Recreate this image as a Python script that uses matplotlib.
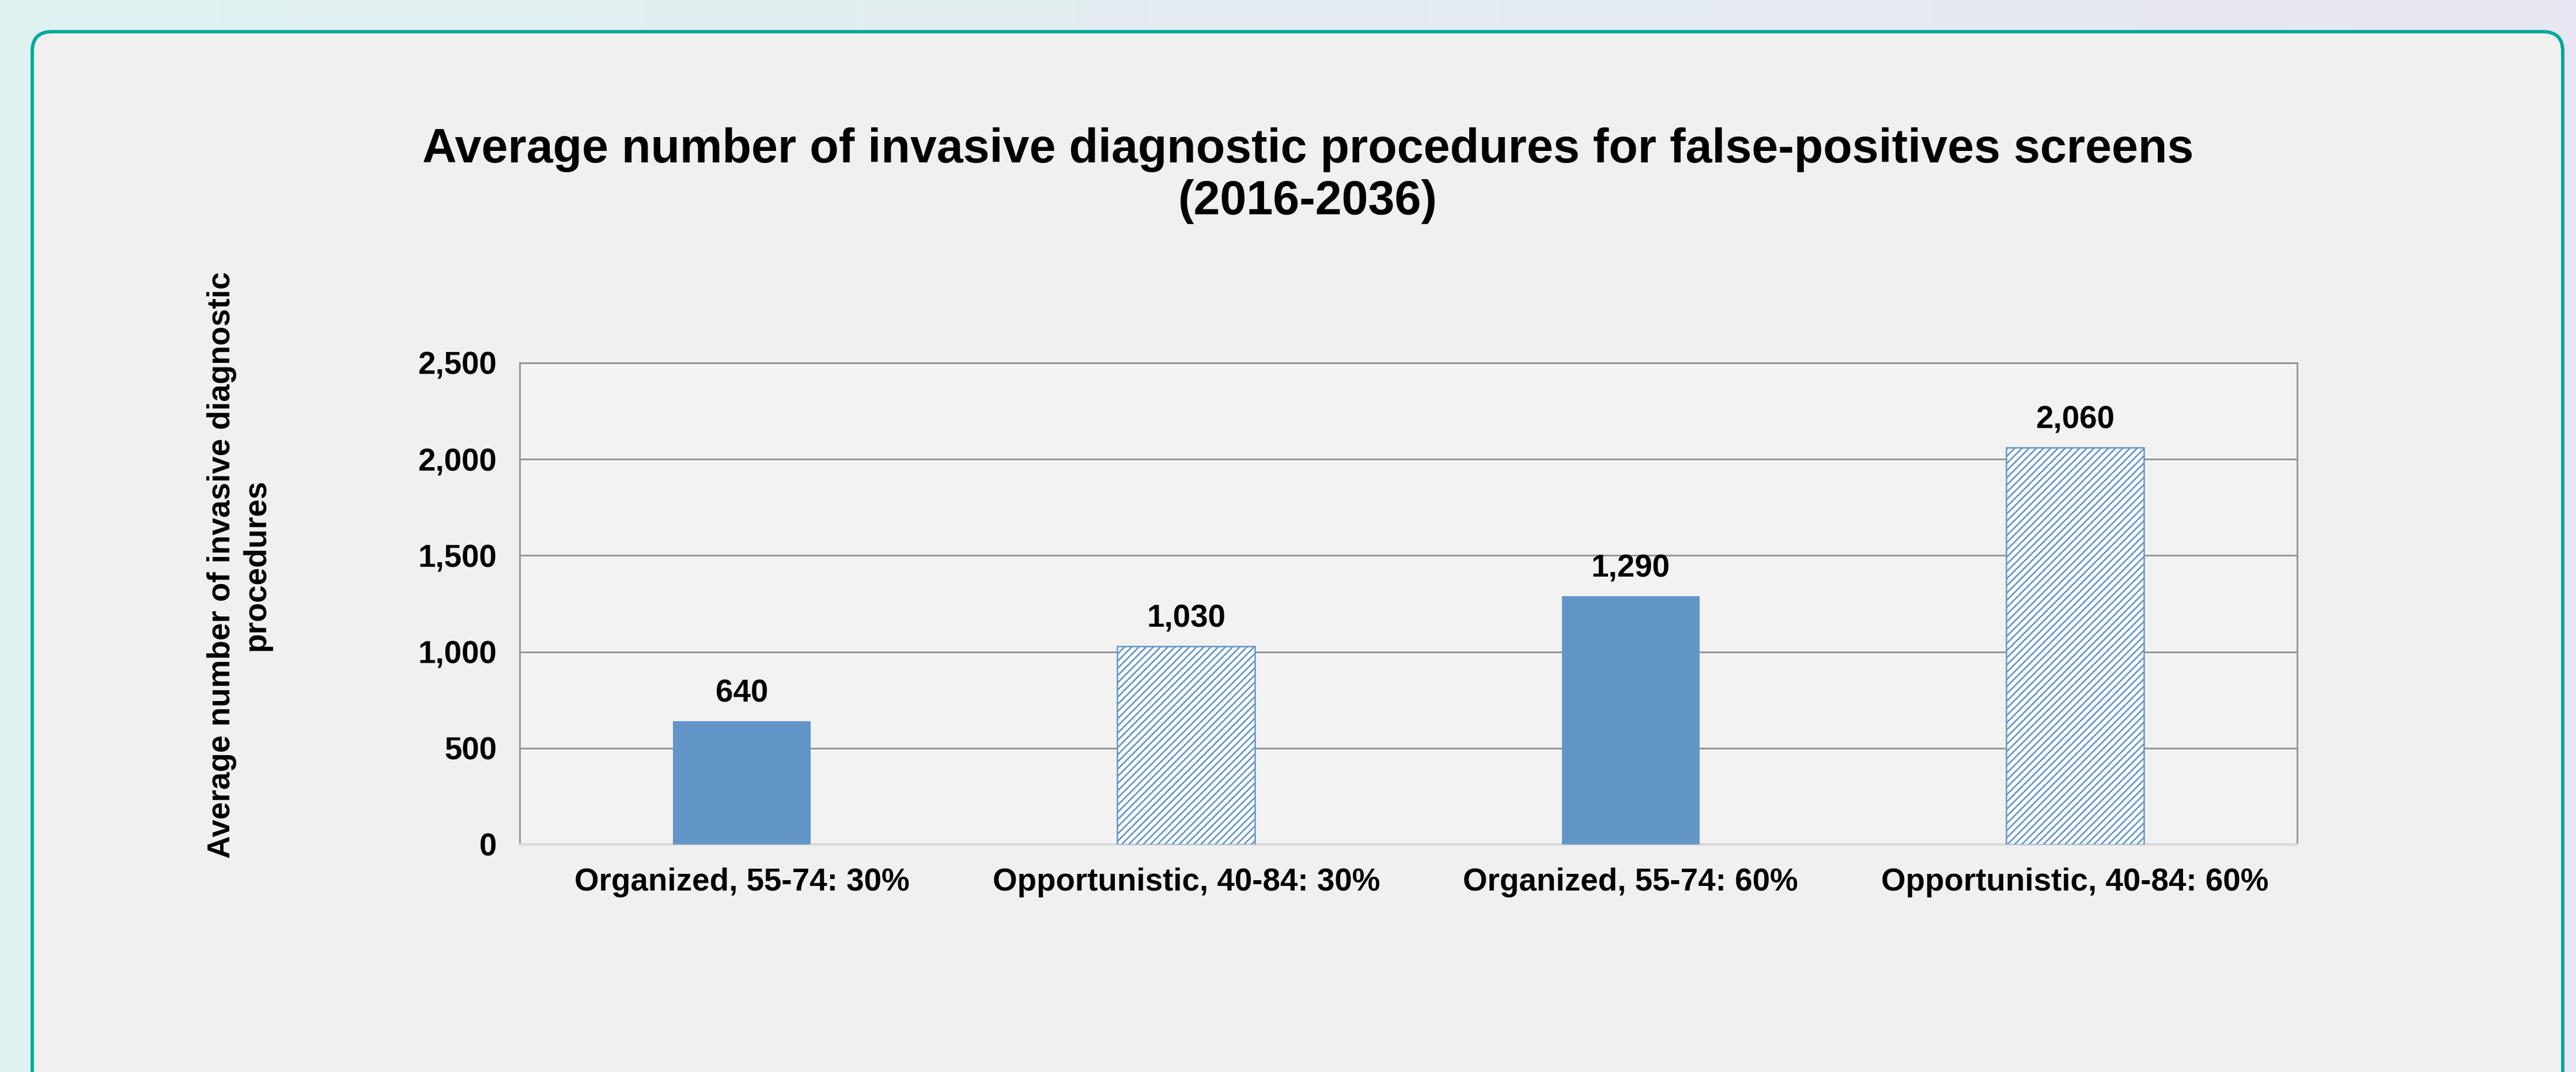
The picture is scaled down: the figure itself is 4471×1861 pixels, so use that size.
import matplotlib.pyplot as plt
import numpy as np
from matplotlib.patches import FancyBboxPatch

# Chart data
categories = ['Organized, 55-74: 30%', 'Opportunistic, 40-84: 30%',
              'Organized, 55-74: 60%', 'Opportunistic, 40-84: 60%']
values = [640, 1030, 1290, 2060]
hatched = [False, True, False, True]
y_ticks = [0, 500, 1000, 1500, 2000, 2500]

title = 'Average number of invasive diagnostic procedures for false-positives screens\n(2016-2036)'
y_label = 'Average number of invasive diagnostic\nprocedures'

W, H, DPI = 4471, 1861, 150
bar_color = '#6396C8'
grid_color = '#959595'
fs = 26.3

plt.rcParams['font.family'] = ['Liberation Sans', 'DejaVu Sans']
plt.rcParams['font.weight'] = 'bold'
plt.rcParams['hatch.linewidth'] = 1.3

fig = plt.figure(figsize=(W / DPI, H / DPI), dpi=DPI)

# Background gradient and rounded card
bg = fig.add_axes([0, 0, 1, 1])
bg.set_xlim(0, W)
bg.set_ylim(H, 0)
bg.axis('off')
t = np.linspace(0, 1, 256)
c0 = np.array([0xDF, 0xF2, 0xF0]) / 255
c1 = np.array([0xE8, 0xE6, 0xF2]) / 255
img = c0[None, None, :] * (1 - t[None, :, None]) + c1[None, None, :] * t[None, :, None]
bg.imshow(img, extent=[0, W, H, 0], aspect='auto')
card = FancyBboxPatch((56, 55), 4448 - 56, 1950,
                      boxstyle='round,pad=0,rounding_size=34',
                      fc='#F0F0F0', ec='#00A99D', lw=6 * 72 / DPI)
bg.add_patch(card)

# Main plot
ax = fig.add_axes([902 / W, 1 - 1466 / H, (3987 - 902) / W, (1466 - 630) / H])
ax.set_facecolor('#F2F2F2')
x = np.arange(len(categories))
for xi, v, h in zip(x, values, hatched):
    if h:
        ax.bar(xi, v, width=0.31, facecolor='white', edgecolor=bar_color,
               hatch='////', linewidth=1.2, zorder=3)
    else:
        ax.bar(xi, v, width=0.31, color=bar_color, zorder=3)
    ax.annotate(f'{v:,}', (xi, v), xytext=(0, 16), textcoords='offset points',
                ha='center', va='baseline', fontsize=fs, fontweight='bold')

ax.set_xlim(-0.5, len(categories) - 0.5)
ax.set_ylim(0, 2500)
ax.set_yticks(y_ticks)
ax.set_yticklabels([f'{v:,}' for v in y_ticks])
ax.set_xticks(x)
ax.set_xticklabels(categories)
ax.tick_params(axis='both', length=0, labelsize=fs)
ax.tick_params(axis='y', pad=19)
ax.tick_params(axis='x', pad=19)
ax.yaxis.grid(True, color=grid_color, linewidth=1.4)
ax.set_axisbelow(True)
for s in ['left', 'top', 'right']:
    ax.spines[s].set_color(grid_color)
    ax.spines[s].set_linewidth(1.4)
ax.spines['bottom'].set_color('#D9D9D9')
ax.spines['bottom'].set_linewidth(2)

fig.text(2270 / W, 1 - 305 / H, title, ha='center', va='center',
         multialignment='center', fontsize=39.7, fontweight='bold')
fig.text(415 / W, 1 - 981 / H, y_label, rotation=90, ha='center', va='center',
         multialignment='center', fontsize=fs, fontweight='bold')

fig.savefig('out.png', dpi=DPI)
